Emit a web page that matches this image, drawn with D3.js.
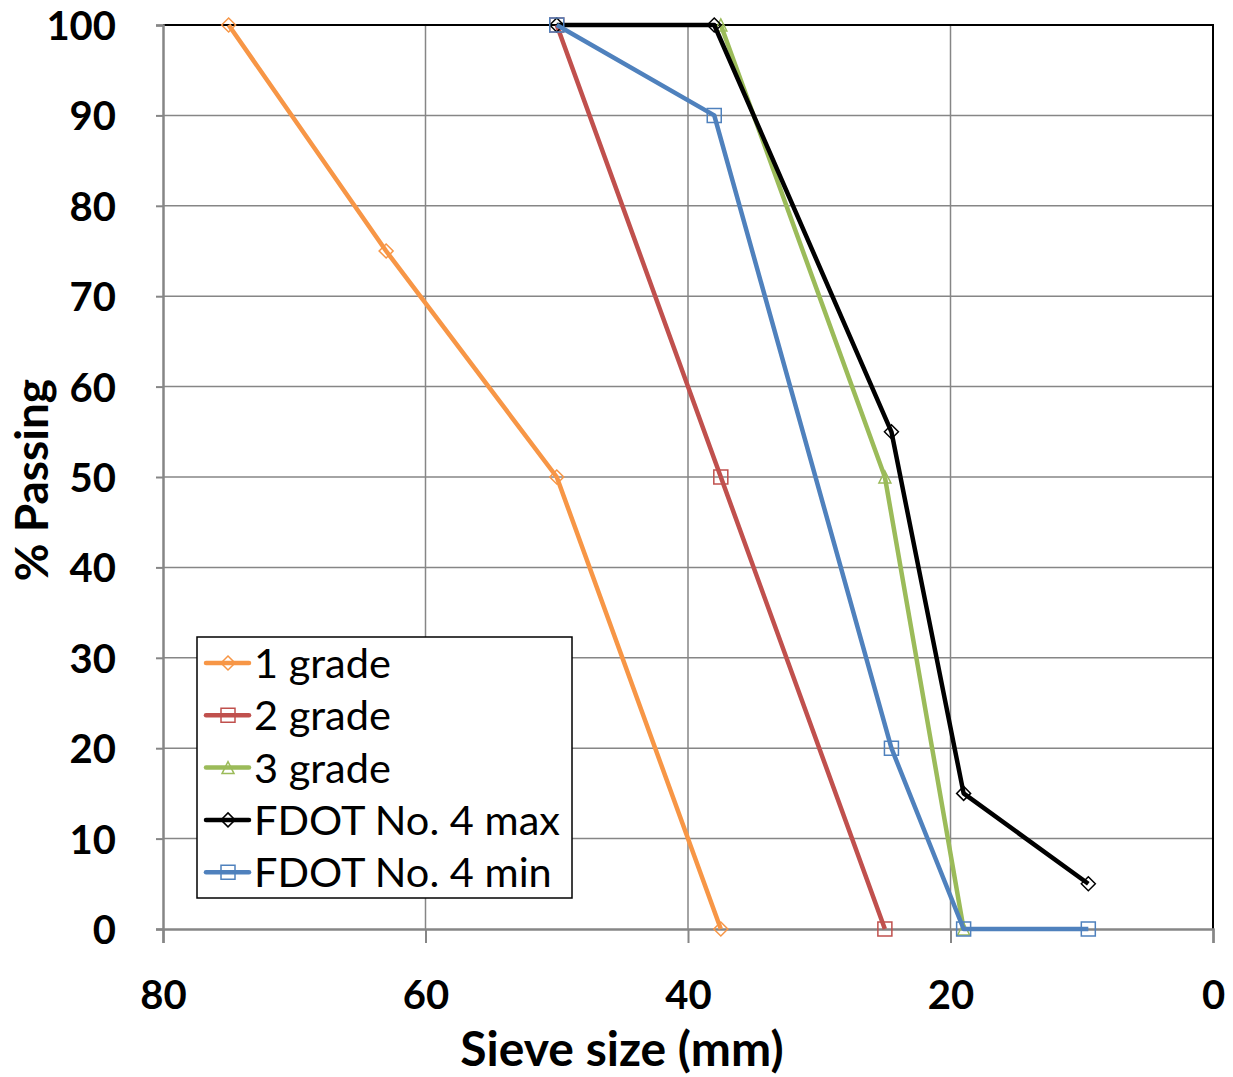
<!DOCTYPE html>
<html><head><meta charset="utf-8">
<script src="https://cdn.jsdelivr.net/npm/d3@7"></script>
<style>body{margin:0;background:#fff}svg{display:block}</style>
</head><body>
<svg id="c" width="1233" height="1077"></svg>
<script>
const seriesNames = ["1 grade","2 grade","3 grade","FDOT No. 4 max","FDOT No. 4 min"];
const grade1 = [[75,100],[63,75],[50,50],[37.5,0]];
const grade2 = [[50,100],[37.5,50],[25,0]];
const grade3 = [[37.5,100],[25,50],[19,0]];
const fdotMax = [[50,100],[38,100],[24.5,55],[19,15],[9.5,5]];
const fdotMin = [[50,100],[38,90],[24.5,20],[19,0],[9.5,0]];
const xTicks = [80,60,40,20,0];
const yTicks = [0,10,20,30,40,50,60,70,80,90,100];
const colors = ["#F79646","#C0504D","#9BBB59","#000000","#4F81BD"];
const markers = ["diamond","square","triangle","diamond","square"];
const allSeries = [grade1,grade2,grade3,fdotMax,fdotMin];

const svg = d3.select("#c");
const L=163,R=1213,T=25,B=929;
const x = d3.scaleLinear().domain([80,0]).range([L,R]);
const y = d3.scaleLinear().domain([0,100]).range([B,T]);
const grid="#868686";

// gridlines
svg.append("g").selectAll("line").data(yTicks.filter(d=>d>0&&d<100)).join("line")
  .attr("x1",L).attr("x2",R).attr("y1",d=>y(d)).attr("y2",d=>y(d))
  .attr("stroke",grid).attr("stroke-width",1.5);
svg.append("g").selectAll("line").data(xTicks.filter(d=>d>0&&d<80)).join("line")
  .attr("y1",T).attr("y2",B).attr("x1",d=>x(d)).attr("x2",d=>x(d))
  .attr("stroke",grid).attr("stroke-width",1.5);
// plot border top/right
svg.append("path").attr("d",`M${L},${T}H${R}V${B}`).attr("fill","none").attr("stroke","#000").attr("stroke-width",2);

// axes
const yAxis = d3.axisLeft(y).tickValues(yTicks).tickSize(7).tickPadding(40);
const gy = svg.append("g").attr("transform",`translate(${L},0)`).call(yAxis);
const xAxis = d3.axisBottom(x).tickValues(xTicks).tickSize(14).tickPadding(38);
const gx = svg.append("g").attr("transform",`translate(0,${B})`).call(xAxis);
[gx,gy].forEach(g=>{
  g.select(".domain").attr("stroke",grid).attr("stroke-width",2.5);
  g.selectAll(".tick line").attr("stroke",grid).attr("stroke-width",2);
  g.selectAll("text").attr("font-family","Lato, 'Open Sans', sans-serif").attr("font-weight","bold")
   .attr("font-size",40).attr("fill","#000");
});
gy.selectAll("text").attr("dy","0.36em");
gx.selectAll("text").attr("dy","0.71em");

// titles
svg.append("text").attr("x",622).attr("y",1066).attr("text-anchor","middle")
  .attr("font-family","Lato, sans-serif").attr("font-weight","bold").attr("font-size",48)
  .text("Sieve size (mm)");
svg.append("text").attr("transform","translate(48,480) rotate(-90)").attr("text-anchor","middle")
  .attr("font-family","Lato, sans-serif").attr("font-weight","bold").attr("font-size",46)
  .text("% Passing");

function markerPath(type){
  if(type==="diamond") return "M0,-7L7,0L0,7L-7,0Z";
  if(type==="square") return "M-7,-7H7V7H-7Z";
  return "M-6,6L0,-6L6,6Z";
}
const line = d3.line().x(d=>x(d[0])).y(d=>y(d[1]));
allSeries.forEach((data,i)=>{
  const g = svg.append("g");
  g.append("path").attr("d",line(data)).attr("fill","none").attr("stroke",colors[i])
    .attr("stroke-width",4.5).attr("stroke-linejoin","round");
  g.selectAll("path.m").data(data).join("path").attr("class","m")
    .attr("d",markerPath(markers[i])).attr("transform",d=>`translate(${x(d[0])},${y(d[1])})`)
    .attr("fill","none").attr("stroke",colors[i]).attr("stroke-width",1.5);
});

// legend
const lg = svg.append("g");
lg.append("rect").attr("x",197).attr("y",637).attr("width",375).attr("height",261)
  .attr("fill","#fff").attr("stroke","#000").attr("stroke-width",1.5);
seriesNames.forEach((n,i)=>{
  const cy = 663 + i*52.3;
  lg.append("line").attr("x1",206).attr("x2",249).attr("y1",cy).attr("y2",cy)
    .attr("stroke",colors[i]).attr("stroke-width",4.5).attr("stroke-linecap","round");
  lg.append("path").attr("d",markerPath(markers[i])).attr("transform",`translate(228,${cy})`)
    .attr("fill","none").attr("stroke",colors[i]).attr("stroke-width",1.5);
  lg.append("text").attr("x",254).attr("y",cy).attr("dy","0.36em")
    .attr("font-family","Lato, sans-serif").attr("font-size",41.5).attr("fill","#000").text(n);
});
</script>
</body></html>
